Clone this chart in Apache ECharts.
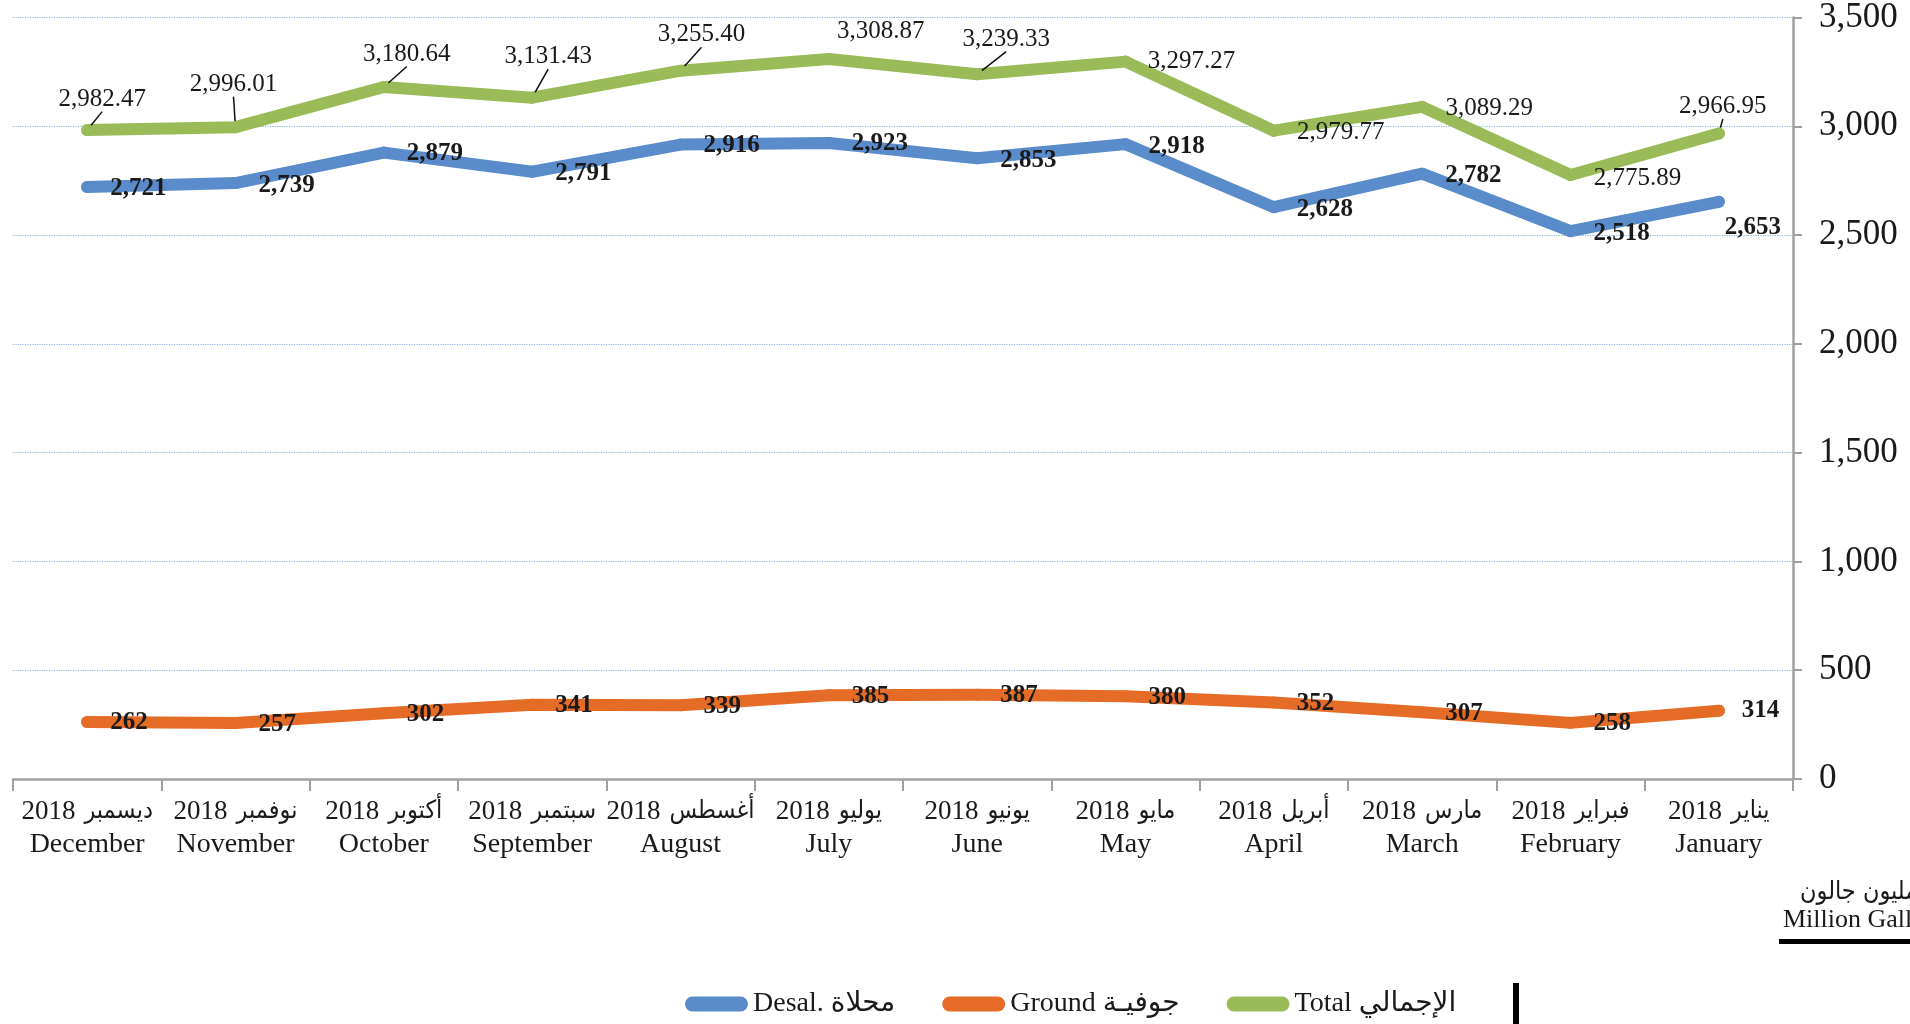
<!DOCTYPE html>
<html>
<head>
<meta charset="utf-8">
<script src="https://cdn.jsdelivr.net/npm/echarts@6/dist/echarts.min.js"></script>
<style>
  html, body { margin: 0; padding: 0; background: #fff; }
  #chart { width: 1910px; height: 1024px; }
</style>
</head>
<body>
<div id="chart"></div>
<script>
/* data, January -> December (axis is drawn reversed) */
var monthsEn = ["January", "February", "March", "April", "May", "June",
  "July", "August", "September", "October", "November", "December"];
var monthsAr = ["يناير", "فبراير", "مارس", "أبريل", "مايو", "يونيو",
  "يوليو", "أغسطس", "سبتمبر", "أكتوبر", "نوفمبر", "ديسمبر"];
var year = "2018";

var desal = [2653, 2518, 2782, 2628, 2918, 2853, 2923, 2916, 2791, 2879, 2739, 2721];
var ground = [314, 258, 307, 352, 380, 387, 385, 339, 341, 302, 257, 262];
var total = [2966.95, 2775.89, 3089.29, 2979.77, 3297.27, 3239.33,
  3308.87, 3255.40, 3131.43, 3180.64, 2996.01, 2982.47];

/* label placement (pixels from the point) */
var totalOffsets = [[4, -27], [67, 3], [67, 2], [67, 2], [66, 0], [29, -35],
  [52, -28], [21, -36], [16, -41], [23, -33], [-2, -43], [15, -31]];
var totalLeader = [true, false, false, false, false, true,
  false, true, true, true, true, true];
var desalOffsets = [[6, 26], [23, 2], [23, 2], [23, 2], [23, 2], [23, 2],
  [23, 1], [23, 1], [23, 2], [23, 1], [23, 2], [23, 2]];
var groundOffsets = [[23, 0], [23, 1], [23, 1], [23, 1], [23, 1], [23, 1],
  [23, 1], [23, 1], [23, 1], [23, 1], [23, 1], [23, 1]];

var serif = "'Liberation Serif', 'DejaVu Sans', serif";
var arabic = "'DejaVu Sans Condensed', 'DejaVu Sans', sans-serif";

function placeLabels(offsets, align) {
  return function (params) {
    var o = offsets[params.dataIndex];
    var cx = params.rect.x + params.rect.width / 2;
    var cy = params.rect.y + params.rect.height / 2;
    return { x: cx + o[0], y: cy + o[1], align: align, verticalAlign: "middle" };
  };
}

function fmt(v, digits) {
  return v.toLocaleString("en-US", {
    minimumFractionDigits: digits,
    maximumFractionDigits: digits
  });
}

var totalData = total.map(function (v, i) {
  return { value: v, labelLine: { show: totalLeader[i] } };
});

var dom = document.getElementById("chart");
var myChart = echarts.init(dom, null, { renderer: "canvas" });

var lineBase = {
  type: "line",
  symbol: "circle",
  symbolSize: 12,
  showSymbol: true,
  animation: false,
  lineStyle: { width: 12, cap: "round", join: "round" },
  itemStyle: { borderWidth: 0 }
};

var option = {
  animation: false,
  grid: { left: 13, right: 117, top: 16, bottom: 245 },
  legend: {
    left: 680,
    top: 985,
    itemWidth: 63,
    itemHeight: 15,
    itemGap: 47,
    icon: "path://M7.5,0 H55.5 A7.5,7.5 0 0 1 55.5,15 H7.5 A7.5,7.5 0 0 1 7.5,0 Z",
    textStyle: { fontFamily: serif, fontSize: 28, color: "#1a1a1a" },
    data: ["Desal. محلاة", "Ground جوفيـة", "Total الإجمالي"]
  },
  xAxis: {
    type: "category",
    data: monthsEn,
    inverse: true,
    boundaryGap: true,
    axisLine: { lineStyle: { color: "#a0a0a0", width: 2.5 } },
    axisTick: { show: true, length: 12, lineStyle: { color: "#a0a0a0", width: 2 } },
    axisLabel: {
      interval: 0,
      margin: 16,
      color: "#1a1a1a",
      formatter: function (value, index) {
        return "{n|" + year + "}{ar|" + monthsAr[index] + "}\n{en|" + value + "}";
      },
      rich: {
        n: { fontFamily: serif, fontSize: 27, lineHeight: 33, color: "#1a1a1a" },
        ar: { fontFamily: arabic, fontSize: 25, lineHeight: 33, color: "#1a1a1a", padding: [0, 0, 0, 9] },
        en: { fontFamily: serif, fontSize: 28, lineHeight: 33, color: "#1a1a1a" }
      }
    }
  },
  yAxis: {
    type: "value",
    position: "right",
    min: 0,
    max: 3500,
    interval: 500,
    axisLine: { show: true, lineStyle: { color: "#a0a0a0", width: 2.5 } },
    axisTick: { show: true, length: 9, lineStyle: { color: "#a0a0a0", width: 2 } },
    axisLabel: {
      margin: 26,
      fontFamily: serif,
      fontSize: 35,
      color: "#1a1a1a",
      formatter: function (v) { return fmt(v, 0); }
    },
    splitLine: { lineStyle: { color: "#8db3e2", type: "dotted", width: 1.2 } }
  },
  series: [
    Object.assign({}, lineBase, {
      name: "Desal. محلاة",
      data: desal,
      color: "#5a8bca",
      label: {
        show: true,
        fontFamily: serif,
        fontSize: 25,
        fontWeight: "bold",
        color: "#1a1a1a",
        formatter: function (p) { return fmt(p.value, 0); }
      },
      labelLayout: placeLabels(desalOffsets, "left")
    }),
    Object.assign({}, lineBase, {
      name: "Ground جوفيـة",
      data: ground,
      color: "#e46c27",
      label: {
        show: true,
        fontFamily: serif,
        fontSize: 25,
        fontWeight: "bold",
        color: "#1a1a1a",
        formatter: function (p) { return fmt(p.value, 0); }
      },
      labelLayout: placeLabels(groundOffsets, "left")
    }),
    Object.assign({}, lineBase, {
      name: "Total الإجمالي",
      data: totalData,
      color: "#9bbb59",
      label: {
        show: true,
        fontFamily: serif,
        fontSize: 25,
        color: "#1a1a1a",
        formatter: function (p) { return fmt(p.value, 2); }
      },
      labelLine: { show: false, lineStyle: { color: "#111", width: 1.5 } },
      labelLayout: placeLabels(totalOffsets, "center")
    })
  ],
  graphic: [
    {
      type: "text",
      x: 1800,
      y: 892,
      style: {
        text: "مليون جالون",
        fontFamily: arabic,
        fontSize: 25,
        fill: "#1a1a1a",
        align: "left",
        verticalAlign: "middle"
      }
    },
    {
      type: "text",
      x: 1783,
      y: 920,
      style: {
        text: "Million Gallons",
        fontFamily: serif,
        fontSize: 26,
        fill: "#1a1a1a",
        align: "left",
        verticalAlign: "middle"
      }
    },
    {
      type: "rect",
      shape: { x: 1779, y: 939, width: 140, height: 5 },
      style: { fill: "#000" }
    },
    {
      type: "rect",
      shape: { x: 1513, y: 983, width: 6, height: 41 },
      style: { fill: "#000" }
    }
  ]
};

if (option && typeof option === "object") {
  myChart.setOption(option);
}

window.addEventListener("resize", myChart.resize);
</script>
</body>
</html>
